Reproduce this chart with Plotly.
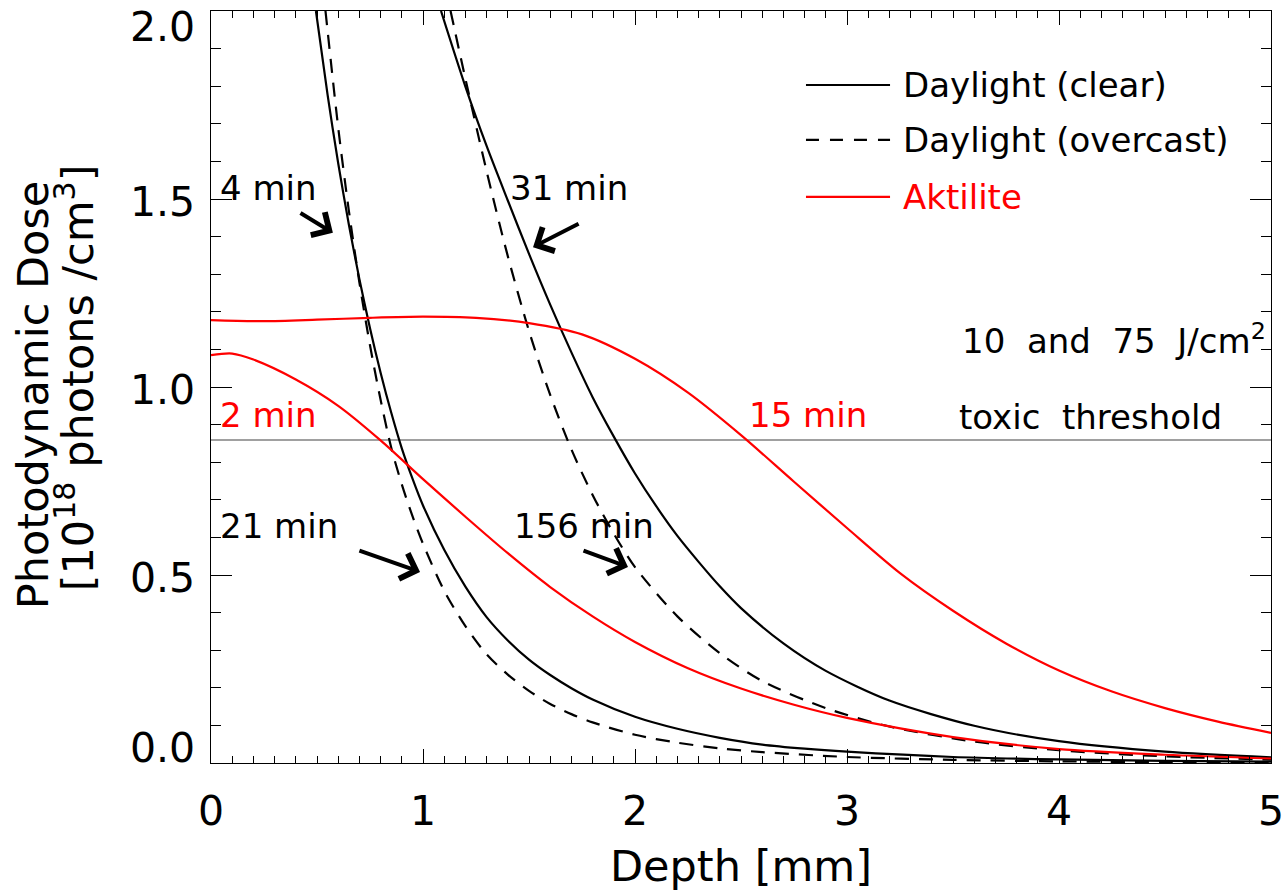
import plotly.graph_objects as go

# ---- data (depth in mm, dose in 1e18 photons/cm^3) ----
depth_clear_4 = [0.495, 0.55, 0.6, 0.65, 0.7, 0.75, 0.8, 0.85, 0.9, 0.95, 1.0, 1.1, 1.2, 1.3, 1.4, 1.5, 1.6, 1.7, 1.8, 2.0, 2.2, 2.4, 2.6, 2.8, 3.0, 3.5, 4.0, 4.5, 5.0]
dose_clear_4 = [2.0, 1.777, 1.595, 1.433, 1.287, 1.156, 1.038, 0.932, 0.837, 0.757, 0.685, 0.567, 0.469, 0.388, 0.326, 0.275, 0.234, 0.199, 0.169, 0.123, 0.091, 0.067, 0.049, 0.038, 0.030, 0.016, 0.0096, 0.0058, 0.0035]

depth_over_21 = [0.54, 0.6, 0.65, 0.7, 0.75, 0.8, 0.85, 0.9, 0.95, 1.0, 1.1, 1.2, 1.3, 1.4, 1.5, 1.6, 1.7, 1.8, 2.0, 2.2, 2.4, 2.6, 3.0, 3.5, 4.0, 4.5, 5.0]
dose_over_21 = [2.0, 1.690, 1.470, 1.278, 1.111, 0.966, 0.839, 0.741, 0.657, 0.583, 0.458, 0.364, 0.289, 0.235, 0.192, 0.157, 0.130, 0.108, 0.075, 0.054, 0.039, 0.029, 0.016, 0.0085, 0.0044, 0.0023, 0.0012]

depth_clear_31 = [1.085, 1.2, 1.3, 1.4, 1.5, 1.6, 1.7, 1.8, 1.9, 2.0, 2.1, 2.2, 2.3, 2.4, 2.5, 2.7, 2.9, 3.2, 3.6, 4.0, 4.5, 5.0]
dose_clear_31 = [2.0, 1.799, 1.641, 1.496, 1.354, 1.219, 1.092, 0.973, 0.868, 0.770, 0.683, 0.604, 0.535, 0.470, 0.412, 0.318, 0.245, 0.166, 0.099, 0.058, 0.030, 0.0148]

depth_over_156 = [1.13, 1.2, 1.3, 1.4, 1.5, 1.6, 1.7, 1.8, 1.9, 2.0, 2.2, 2.4, 2.6, 2.9, 3.2, 3.6, 4.0, 4.5, 5.0]
dose_over_156 = [2.0, 1.820, 1.574, 1.348, 1.149, 0.979, 0.834, 0.713, 0.610, 0.521, 0.390, 0.292, 0.218, 0.146, 0.097, 0.057, 0.034, 0.0176, 0.0092]

depth_akt_15 = [0.0, 0.25, 0.5, 0.75, 1.0, 1.25, 1.5, 1.75, 2.0, 2.25, 2.5, 2.75, 3.0, 3.25, 3.5, 3.75, 4.0, 4.25, 4.5, 4.75, 5.0]
dose_akt_15 = [1.178, 1.175, 1.179, 1.184, 1.187, 1.184, 1.170, 1.140, 1.075, 0.985, 0.872, 0.748, 0.625, 0.505, 0.405, 0.318, 0.246, 0.190, 0.146, 0.110, 0.080]

depth_akt_2 = [0.0, 0.1, 0.2, 0.4, 0.6, 0.8, 1.0, 1.2, 1.4, 1.6, 1.8, 2.0, 2.25, 2.5, 2.75, 3.0, 3.5, 4.0, 4.5, 5.0]
dose_akt_2 = [1.085, 1.089, 1.073, 1.020, 0.950, 0.858, 0.755, 0.655, 0.558, 0.468, 0.390, 0.322, 0.252, 0.198, 0.155, 0.120, 0.069, 0.037, 0.022, 0.012]

toxic_threshold = 0.859
x_range = [0, 5]
y_range = [0, 2]
x_ticks = [0, 1, 2, 3, 4, 5]
x_ticklabels = ["0", "1", "2", "3", "4", "5"]
y_ticks = [0.0, 0.5, 1.0, 1.5, 2.0]
y_ticklabels = ["0.0", "0.5", "1.0", "1.5", "2.0"]

FONT = "DejaVu Sans"
BLACK = "#000000"
RED = "#ff0000"
DASH = "14px,10px"

fig = go.Figure()

# threshold line
fig.add_trace(go.Scatter(x=x_range, y=[toxic_threshold, toxic_threshold], mode="lines",
                         line=dict(color="#808080", width=1.6), showlegend=False, hoverinfo="skip"))

def curve(x, y, color, dash, name):
    fig.add_trace(go.Scatter(x=x, y=y, mode="lines", name=name, showlegend=False,
                             line=dict(color=color, width=2.2, dash=dash, shape="spline", smoothing=0.8)))

curve(depth_clear_4, dose_clear_4, BLACK, "solid", "Daylight (clear)")
curve(depth_clear_31, dose_clear_31, BLACK, "solid", "Daylight (clear)")
curve(depth_over_21, dose_over_21, BLACK, DASH, "Daylight (overcast)")
curve(depth_over_156, dose_over_156, BLACK, DASH, "Daylight (overcast)")
curve(depth_akt_15, dose_akt_15, RED, "solid", "Aktilite")
curve(depth_akt_2, dose_akt_2, RED, "solid", "Aktilite")

# ---- manual legend (long line samples) ----
legend_items = [("Daylight (clear)", BLACK, "solid"),
                ("Daylight (overcast)", BLACK, "dash"),
                ("Aktilite", RED, "solid")]
legend_y = [0.9016, 0.8285, 0.7527]
shapes = []
annotations = []
for (label, col, dsh), ly in zip(legend_items, legend_y):
    shapes.append(dict(type="line", xref="paper", yref="paper", x0=0.5613, x1=0.6406, y0=ly, y1=ly,
                       line=dict(color=col, width=2.2, dash=("solid" if dsh == "solid" else "13px,11px"))))
    annotations.append(dict(xref="paper", yref="paper", x=0.651, y=ly, text=label, showarrow=False,
                            xanchor="left", yanchor="middle", font=dict(family=FONT, size=34, color=col)))

# ---- text labels ----
labels = [
    ("4 min", 0.033, 1.529, BLACK, "left"),
    ("31 min", 1.40, 1.529, BLACK, "left"),
    ("2 min", 0.033, 0.926, RED, "left"),
    ("15 min", 2.528, 0.926, RED, "left"),
    ("21 min", 0.033, 0.63, BLACK, "left"),
    ("156 min", 1.42, 0.63, BLACK, "left"),
    ("10&nbsp; and&nbsp; 75&nbsp; J/cm<sup>2</sup>", 4.985, 1.127, BLACK, "right"),
    ("toxic&nbsp; threshold", 3.52, 0.92, BLACK, "left"),
]
for t, x, y, c, anc in labels:
    annotations.append(dict(x=x, y=y, xref="x", yref="y", text=t, showarrow=False,
                            xanchor=anc, yanchor="middle", font=dict(family=FONT, size=34, color=c)))

# ---- arrows (head x,y ; tail ax,ay) ----
arrows = [
    (0.575, 1.41, 0.415, 1.465),
    (1.519, 1.372, 1.741, 1.436),
    (0.986, 0.508, 0.693, 0.566),
    (1.967, 0.521, 1.75, 0.566),
]
for x, y, ax, ay in arrows:
    annotations.append(dict(x=x, y=y, ax=ax, ay=ay, xref="x", yref="y", axref="x", ayref="y",
                            text="", showarrow=True, arrowhead=4, arrowsize=1.3, arrowwidth=4,
                            arrowcolor=BLACK))

# ---- y tick labels (IDL style: end labels pulled inside the axis span) ----
ylabel_shift = {0.0: 15, 0.5: -3, 1.0: -3, 1.5: -3, 2.0: -16}
for v, t in zip(y_ticks, y_ticklabels):
    annotations.append(dict(x=x_range[0], y=v, xref="x", yref="y", text=t, showarrow=False,
                            xanchor="right", yanchor="middle", xshift=-14, yshift=ylabel_shift[v],
                            font=dict(family=FONT, size=41, color=BLACK)))

# ---- x tick labels ----
for v, t in zip(x_ticks, x_ticklabels):
    annotations.append(dict(x=v, y=y_range[0], xref="x", yref="y", text=t, showarrow=False,
                            xanchor="center", yanchor="middle", yshift=-48,
                            font=dict(family=FONT, size=41, color=BLACK)))

# ---- axis titles ----
annotations.append(dict(xref="paper", yref="paper", x=0.5, y=-0.137, text="Depth [mm]",
                        showarrow=False, xanchor="center", yanchor="middle",
                        font=dict(family=FONT, size=43, color=BLACK)))
annotations.append(dict(xref="paper", yref="paper", x=-0.168, y=0.489, text="Photodynamic Dose",
                        textangle=-90, showarrow=False, xanchor="center", yanchor="middle",
                        font=dict(family=FONT, size=43, color=BLACK)))
annotations.append(dict(xref="paper", yref="paper", x=-0.128, y=0.512,
                        text="[10<sup>18</sup> photons /cm<sup>3</sup>]",
                        textangle=-90, showarrow=False, xanchor="center", yanchor="middle",
                        font=dict(family=FONT, size=43, color=BLACK)))

fig.update_layout(
    width=1287, height=894,
    margin=dict(l=211, r=16, t=11, b=131),
    paper_bgcolor="white", plot_bgcolor="white",
    font=dict(family=FONT, color=BLACK),
    showlegend=False,
    shapes=shapes,
    annotations=annotations,
    xaxis=dict(range=x_range, tickvals=x_ticks, showticklabels=False, showgrid=False, zeroline=False,
               showline=True, linecolor=BLACK, linewidth=1, mirror="ticks",
               ticks="inside", ticklen=14, tickwidth=1, tickcolor=BLACK,
               minor=dict(ticks="inside", dtick=0.1, ticklen=7, tickcolor=BLACK, tickwidth=1, showgrid=False)),
    yaxis=dict(range=y_range, tickvals=y_ticks, showticklabels=False, showgrid=False, zeroline=False,
               showline=True, linecolor=BLACK, linewidth=1, mirror="ticks",
               ticks="inside", ticklen=21, tickwidth=1, tickcolor=BLACK,
               minor=dict(ticks="inside", dtick=0.1, ticklen=10, tickcolor=BLACK, tickwidth=1, showgrid=False)),
)

fig.write_html("out.html")
